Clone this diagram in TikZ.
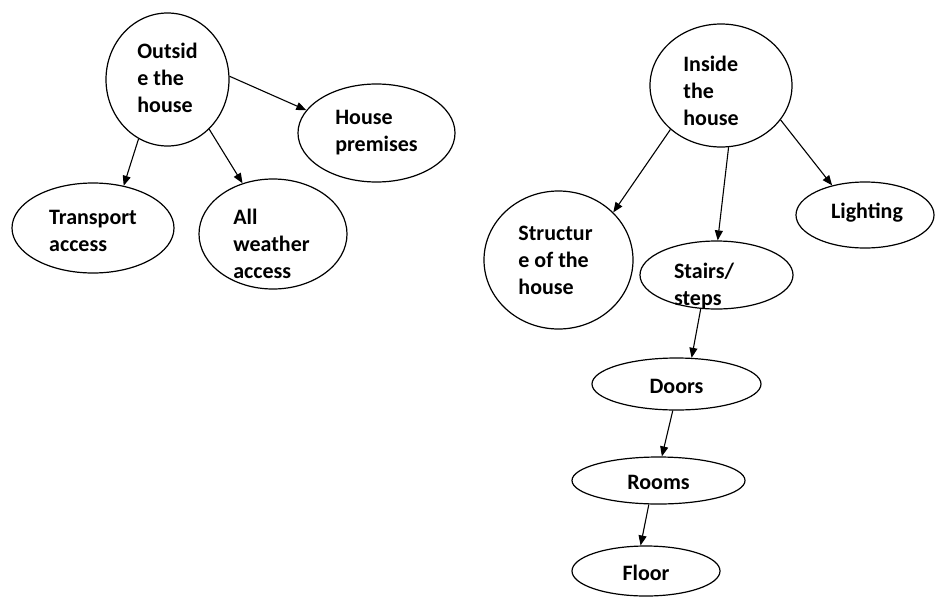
\documentclass[tikz,border=0pt]{standalone}
\usepackage{fontspec}
\setmainfont{Carlito}
\usetikzlibrary{shapes.geometric,arrows.meta}

\tikzset{
  bubble/.style 2 args={draw,ellipse,line width=1.2pt,inner sep=0pt,
    minimum width=#1pt,minimum height=#2pt},
  word/.style={font=\bfseries\fontsize{22}{27}\selectfont,align=left,inner sep=0pt},
  link/.style={-{Triangle[length=10pt,width=8pt]},line width=1.1pt}
}

\begin{document}
\begin{tikzpicture}[x=1pt,y=-1pt]
  \useasboundingbox (0,0) rectangle (936,597);
  % outside part
  \node[bubble={123}{133},label={[word,yshift=2pt]center:{Outsid\\e the\\house}}] (outside) at (167.5,79.5) {};
  \node[bubble={157}{98},label={[word]center:{House\\premises}}] (premises) at (376.5,133) {};
  \node[bubble={162}{90},label={[word,yshift=-3pt]center:{Transport\\access}}] (transport) at (93,228) {};
  \node[bubble={148}{110},label={[word,xshift=-1.5pt,yshift=-10pt]center:{All\\weather\\access}}] (weather) at (273,234) {};
  % inside part
  \node[bubble={142}{123},label={[word,xshift=-10pt,yshift=-5pt]center:{Inside\\the\\house}}] (inside) at (721,85.5) {};
  \node[bubble={149}{138},label={[word,xshift=-3pt]center:{Structur\\e of the\\house}}] (structure) at (558.5,260) {};
  \node[bubble={138}{66},label={[word,xshift=2pt,yshift=2pt]center:Lighting}] (lighting) at (865,215) {};
  \node[bubble={153}{68},label={[word,xshift=-12.5pt,yshift=-11pt]center:{Stairs/\\steps}}] (stairs) at (716.5,275) {};
  \node[bubble={169}{52},label={[word,yshift=-2pt]center:Doors}] (doors) at (676.5,384) {};
  \node[bubble={173}{47},label={[word,yshift=-2pt]center:Rooms}] (rooms) at (658.5,480.5) {};
  \node[bubble={148}{50},label={[word,yshift=-2pt]center:Floor}] (floor) at (646,571) {};

  \draw[link] (outside.244) -- (transport.54);
  \draw[link] (outside.310) -- (weather.121);
  \draw[link] (outside.3) -- (premises.162);
  \draw[link] (inside.221) -- (structure.41);
  \draw[link] (inside.277) -- (stairs.88);
  \draw[link] (inside.330) -- (lighting.138);
  \draw[link] (stairs.245) -- (doors.60);
  \draw[link] (doors.262) -- (rooms.82);
  \draw[link] (rooms.248) -- (floor.102);
\end{tikzpicture}
\end{document}
